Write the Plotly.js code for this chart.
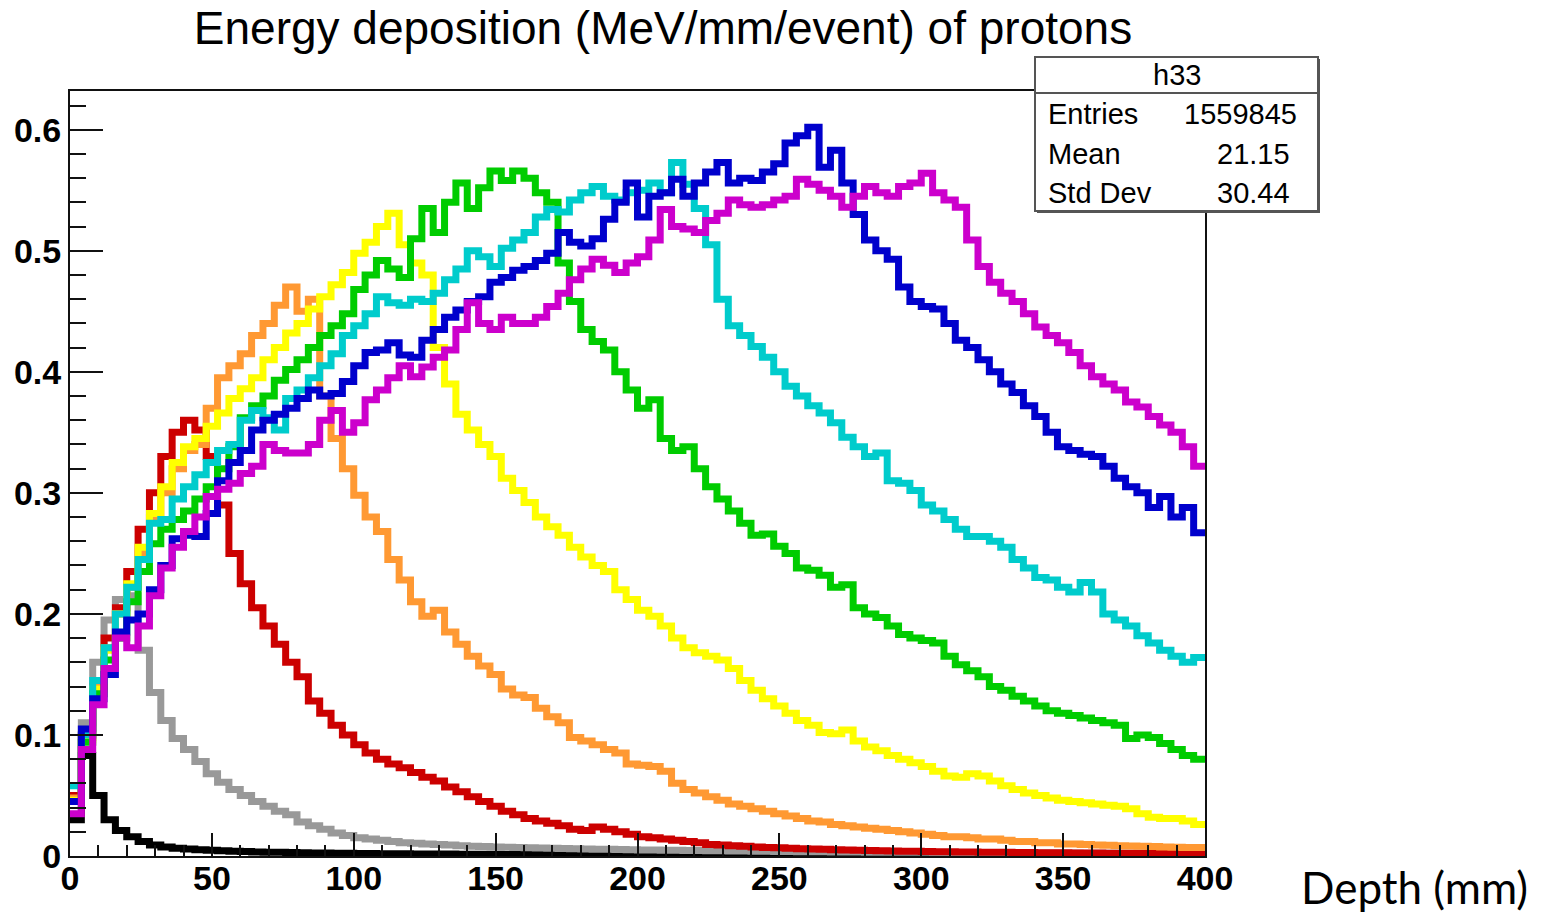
<!DOCTYPE html>
<html>
<head>
<meta charset="utf-8">
<script src="https://cdn.plot.ly/plotly-3.0.1.min.js"></script>
<style>
  html, body { margin: 0; padding: 0; background: #ffffff; }
  #chart { width: 1552px; height: 915px; }
</style>
</head>
<body>
<div id="chart"></div>
<script>
// Bin edges (mm), 4 mm bins
const depthEdges = [
  0,4,8,12,16,20,24,28,32,36,
  40,44,48,52,56,60,64,68,72,76,
  80,84,88,92,96,100,104,108,112,116,
  120,124,128,132,136,140,144,148,152,156,
  160,164,168,172,176,180,184,188,192,196,
  200,204,208,212,216,220,224,228,232,236,
  240,244,248,252,256,260,264,268,272,276,
  280,284,288,292,296,300,304,308,312,316,
  320,324,328,332,336,340,344,348,352,356,
  360,364,368,372,376,380,384,388,392,396,
  400
];

// Energy deposition (MeV/mm/event), one value per bin
const blackSeries = [
  0.03,0.083,0.05,0.03,0.021,0.016,0.012,0.009,0.0075,0.0065,
  0.0058,0.0052,0.0047,0.0043,0.004,0.0037,0.0034,0.0032,0.003,0.0028,
  0.0026,0.0025,0.0024,0.0023,0.0022,0.0021,0.002,0.0019,0.0018,0.0018,
  0.0017,0.0017,0.0016,0.0016,0.0015,0.0015,0.0014,0.0014,0.0013,0.0013,
  0.0013,0.0012,0.0012,0.0012,0.0011,0.0011,0.0011,0.001,0.001,0.001,
  0.001,0.001,0.001,0.00095,0.00095,0.0009,0.0009,0.0009,0.00085,0.00085,
  0.0008,0.0008,0.0008,0.0008,0.00075,0.00075,0.00075,0.0007,0.0007,0.0007,
  0.0007,0.00068,0.00068,0.00066,0.00066,0.00065,0.00064,0.00063,0.00062,0.00062,
  0.0006,0.0006,0.0006,0.00058,0.00058,0.00057,0.00056,0.00056,0.00055,0.00055,
  0.00054,0.00054,0.00053,0.00053,0.00052,0.00052,0.00051,0.00051,0.0005,0.0005
];
const graySeries = [
  0.05,0.11,0.16,0.195,0.212,0.215,0.17,0.135,0.112,0.097,
  0.088,0.078,0.068,0.061,0.055,0.05,0.045,0.041,0.037,0.034,
  0.028,0.025,0.022,0.019,0.017,0.015,0.014,0.013,0.012,0.011,
  0.0105,0.01,0.0095,0.009,0.0085,0.008,0.0078,0.0075,0.0072,0.007,
  0.0068,0.0066,0.0064,0.0062,0.006,0.0058,0.0056,0.0055,0.0054,0.0052,
  0.005,0.0049,0.0048,0.0047,0.0046,0.0045,0.0044,0.0043,0.0042,0.0041,
  0.004,0.0039,0.0038,0.0037,0.0036,0.0036,0.0035,0.0034,0.0034,0.0033,
  0.0032,0.0032,0.0031,0.0031,0.003,0.003,0.0029,0.0029,0.0028,0.0028,
  0.0027,0.0027,0.0026,0.0026,0.0025,0.0025,0.0025,0.0024,0.0024,0.0023,
  0.0023,0.0023,0.0022,0.0022,0.0022,0.0021,0.0021,0.0021,0.002,0.002
];
const redSeries = [
  0.05,0.10,0.14,0.18,0.205,0.235,0.27,0.30,0.33,0.35,
  0.36,0.352,0.33,0.29,0.25,0.225,0.205,0.19,0.175,0.16,
  0.148,0.128,0.118,0.108,0.1,0.092,0.085,0.08,0.076,0.073,
  0.069,0.065,0.062,0.057,0.053,0.049,0.045,0.041,0.037,0.034,
  0.031,0.029,0.027,0.025,0.022,0.021,0.024,0.022,0.02,0.018,
  0.016,0.015,0.014,0.013,0.012,0.011,0.0095,0.009,0.0085,0.008,
  0.0075,0.007,0.0068,0.0065,0.006,0.0058,0.0055,0.0052,0.005,0.0048,
  0.0046,0.0044,0.0042,0.004,0.0039,0.0038,0.0036,0.0035,0.0034,0.0033,
  0.0032,0.0031,0.003,0.0029,0.0028,0.0027,0.0027,0.0026,0.0025,0.0025,
  0.0024,0.0023,0.0023,0.0022,0.0022,0.0021,0.0021,0.002,0.002,0.002
];
const orangeSeries = [
  0.048,0.098,0.14,0.172,0.2,0.222,0.25,0.28,0.3,0.32,
  0.335,0.34,0.37,0.395,0.405,0.415,0.43,0.44,0.455,0.47,
  0.45,0.46,0.38,0.345,0.32,0.298,0.28,0.268,0.245,0.228,
  0.21,0.198,0.203,0.185,0.175,0.165,0.157,0.15,0.138,0.133,
  0.131,0.122,0.115,0.11,0.098,0.095,0.092,0.088,0.085,0.076,
  0.075,0.074,0.07,0.06,0.055,0.052,0.049,0.046,0.043,0.041,
  0.039,0.037,0.035,0.033,0.031,0.029,0.028,0.026,0.025,0.024,
  0.023,0.022,0.021,0.02,0.019,0.018,0.017,0.016,0.016,0.015,
  0.014,0.014,0.013,0.012,0.012,0.011,0.011,0.010,0.010,0.0095,
  0.009,0.0088,0.0085,0.0082,0.008,0.0078,0.0075,0.0072,0.007,0.007
];
const yellowSeries = [
  0.046,0.096,0.138,0.17,0.2,0.225,0.255,0.283,0.305,0.325,
  0.338,0.345,0.355,0.366,0.378,0.386,0.395,0.41,0.42,0.432,
  0.44,0.452,0.462,0.472,0.482,0.498,0.507,0.52,0.531,0.505,
  0.49,0.48,0.42,0.39,0.365,0.352,0.34,0.33,0.312,0.302,
  0.292,0.28,0.272,0.265,0.255,0.247,0.24,0.235,0.22,0.212,
  0.203,0.198,0.19,0.18,0.172,0.168,0.165,0.162,0.155,0.145,
  0.137,0.13,0.124,0.118,0.112,0.108,0.102,0.101,0.104,0.095,
  0.09,0.087,0.083,0.08,0.077,0.074,0.07,0.066,0.065,0.068,
  0.066,0.062,0.058,0.055,0.052,0.05,0.048,0.046,0.045,0.044,
  0.043,0.042,0.041,0.039,0.035,0.032,0.031,0.031,0.029,0.026
];
const greenSeries = [
  0.045,0.094,0.134,0.162,0.18,0.21,0.235,0.258,0.27,0.278,
  0.285,0.295,0.305,0.32,0.338,0.362,0.372,0.38,0.393,0.402,
  0.41,0.42,0.43,0.438,0.448,0.468,0.48,0.492,0.485,0.478,
  0.51,0.535,0.515,0.54,0.556,0.535,0.552,0.566,0.558,0.566,
  0.56,0.548,0.54,0.49,0.458,0.435,0.425,0.418,0.4,0.385,
  0.37,0.377,0.345,0.335,0.338,0.32,0.305,0.295,0.285,0.275,
  0.265,0.266,0.256,0.25,0.238,0.236,0.232,0.222,0.224,0.205,
  0.2,0.197,0.19,0.183,0.18,0.178,0.176,0.165,0.158,0.153,
  0.148,0.14,0.137,0.132,0.128,0.124,0.12,0.118,0.116,0.114,
  0.112,0.11,0.108,0.097,0.1,0.098,0.093,0.088,0.083,0.08
];
const cyanSeries = [
  0.058,0.1,0.145,0.172,0.2,0.222,0.245,0.275,0.278,0.295,
  0.305,0.315,0.325,0.335,0.34,0.36,0.368,0.362,0.352,0.378,
  0.385,0.395,0.405,0.415,0.43,0.438,0.448,0.462,0.457,0.455,
  0.46,0.458,0.465,0.476,0.485,0.5,0.495,0.487,0.502,0.509,
  0.515,0.528,0.534,0.532,0.542,0.548,0.553,0.545,0.542,0.548,
  0.55,0.556,0.548,0.573,0.555,0.535,0.505,0.46,0.438,0.43,
  0.421,0.412,0.40,0.388,0.38,0.372,0.366,0.358,0.346,0.338,
  0.33,0.333,0.31,0.308,0.302,0.29,0.285,0.278,0.27,0.264,
  0.264,0.26,0.255,0.245,0.238,0.23,0.228,0.222,0.218,0.226,
  0.218,0.2,0.195,0.19,0.182,0.176,0.17,0.165,0.16,0.164
];
const blueSeries = [
  0.045,0.105,0.13,0.15,0.185,0.195,0.2,0.22,0.24,0.262,
  0.265,0.264,0.283,0.31,0.325,0.335,0.352,0.36,0.365,0.37,
  0.378,0.385,0.38,0.382,0.392,0.405,0.416,0.418,0.424,0.414,
  0.412,0.426,0.435,0.445,0.451,0.458,0.462,0.474,0.478,0.484,
  0.487,0.492,0.498,0.515,0.507,0.504,0.51,0.526,0.54,0.556,
  0.528,0.545,0.548,0.559,0.545,0.556,0.565,0.573,0.556,0.56,
  0.558,0.565,0.572,0.589,0.595,0.602,0.569,0.583,0.556,0.53,
  0.509,0.5,0.493,0.47,0.458,0.454,0.452,0.44,0.426,0.42,
  0.41,0.4,0.39,0.383,0.372,0.363,0.35,0.338,0.335,0.332,
  0.33,0.322,0.312,0.305,0.3,0.288,0.297,0.28,0.288,0.267
];
const magentaSeries = [
  0.035,0.088,0.125,0.155,0.18,0.172,0.19,0.215,0.238,0.255,
  0.268,0.28,0.297,0.303,0.308,0.316,0.322,0.34,0.335,0.333,
  0.333,0.34,0.36,0.368,0.35,0.358,0.377,0.385,0.395,0.405,
  0.396,0.404,0.412,0.418,0.435,0.457,0.44,0.435,0.445,0.44,
  0.44,0.445,0.454,0.465,0.476,0.485,0.493,0.488,0.482,0.49,
  0.495,0.509,0.534,0.52,0.518,0.515,0.525,0.531,0.542,0.538,
  0.536,0.538,0.542,0.545,0.559,0.555,0.55,0.545,0.536,0.545,
  0.553,0.548,0.545,0.553,0.556,0.564,0.548,0.542,0.536,0.509,
  0.487,0.474,0.465,0.458,0.448,0.437,0.43,0.424,0.416,0.405,
  0.396,0.39,0.385,0.375,0.371,0.363,0.356,0.35,0.338,0.322
];

const seriesList = [blackSeries, graySeries, redSeries, orangeSeries, yellowSeries,
                    greenSeries, cyanSeries, blueSeries, magentaSeries];
const seriesColors = ['#000000', '#999999', '#cc0000', '#ff9933', '#ffff00',
                      '#00cc00', '#00cccc', '#0000cc', '#cc00cc'];

const statsLabels = ['Entries', 'Mean', 'Std Dev'];
const statsValues = ['1559845', '21.15', '30.44'];

const traces = seriesList.map((vals, i) => ({
  type: 'scatter',
  mode: 'lines',
  x: depthEdges,
  y: vals.concat([vals[vals.length - 1]]),
  line: { shape: 'hv', color: seriesColors[i], width: 7 },
  hoverinfo: 'skip',
  showlegend: false
}));

// plot area in px: left 70, right 1205, top 91, bottom 856
const PL = 70, PR = 1205, PT = 91, PB = 856;
const px2x = p => (p - PL) / (PR - PL);
const px2y = p => (PB - p) / (PB - PT);

const axisFont = { family: 'Liberation Sans, Arial, sans-serif', size: 34, color: '#000000', weight: 'bold' };
const statFont = { family: 'Liberation Sans, Arial, sans-serif', size: 29, color: '#000000' };

const annotations = [];
annotations.push({ xref: 'paper', yref: 'paper', x: px2x(1177), y: px2y(75), text: 'h33',
  showarrow: false, xanchor: 'center', yanchor: 'middle', font: statFont });
const rowY = [114, 154, 193];
statsLabels.forEach((t, i) => {
  annotations.push({ xref: 'paper', yref: 'paper', x: px2x(1046), y: px2y(rowY[i]), text: t,
    showarrow: false, xanchor: 'left', yanchor: 'middle', font: statFont });
  annotations.push({ xref: 'paper', yref: 'paper', x: px2x(i === 0 ? 1299 : 1292), y: px2y(rowY[i]), text: statsValues[i],
    showarrow: false, xanchor: 'right', yanchor: 'middle', font: statFont });
});
annotations.push({ xref: 'paper', yref: 'paper', x: px2x(1299), y: px2y(887), text: 'Depth (mm)',
  showarrow: false, xanchor: 'left', yanchor: 'middle',
  font: { family: 'Lato, Carlito, sans-serif', size: 44, color: '#000000' } });

const shapes = [
  // shadow
  { type: 'rect', xref: 'paper', yref: 'paper', layer: 'above',
    x0: px2x(1037), x1: px2x(1320), y0: px2y(213), y1: px2y(59),
    fillcolor: '#555555', line: { width: 0 } },
  // box
  { type: 'rect', xref: 'paper', yref: 'paper', layer: 'above',
    x0: px2x(1035), x1: px2x(1318), y0: px2y(211), y1: px2y(57),
    fillcolor: '#ffffff', line: { color: '#555555', width: 2 } },
  // header separator
  { type: 'line', xref: 'paper', yref: 'paper', layer: 'above',
    x0: px2x(1035), x1: px2x(1318), y0: px2y(93), y1: px2y(93),
    line: { color: '#555555', width: 2 } }
];

const layout = {
  width: 1552, height: 915,
  margin: { l: PL, r: 1552 - PR, t: PT, b: 915 - PB, pad: 0 },
  paper_bgcolor: '#ffffff', plot_bgcolor: '#ffffff',
  showlegend: false,
  title: {
    text: 'Energy deposition (MeV/mm/event) of protons',
    font: { family: 'Liberation Sans, Arial, sans-serif', size: 46, color: '#000000' },
    xref: 'container', yref: 'container',
    x: 663 / 1552, xanchor: 'center',
    y: 1 - 28 / 915, yanchor: 'middle'
  },
  xaxis: {
    range: [0, 400], tick0: 0, dtick: 50,
    ticks: 'inside', ticklen: 23, tickwidth: 2, tickcolor: '#111111',
    showline: true, linecolor: '#111111', linewidth: 2, mirror: true,
    showgrid: false, zeroline: false,
    tickfont: axisFont, ticklabelstandoff: -9,
    minor: { dtick: 10, ticks: 'inside', ticklen: 11, tickwidth: 2, tickcolor: '#111111', showgrid: false }
  },
  yaxis: {
    range: [0, 0.632], tick0: 0, dtick: 0.1,
    ticks: 'inside', ticklen: 33, tickwidth: 2, tickcolor: '#111111',
    showline: true, linecolor: '#111111', linewidth: 2, mirror: true,
    showgrid: false, zeroline: false,
    tickfont: axisFont,
    minor: { dtick: 0.02, ticks: 'inside', ticklen: 16, tickwidth: 2, tickcolor: '#111111', showgrid: false }
  },
  shapes: shapes,
  annotations: annotations
};

Plotly.newPlot('chart', traces, layout, { staticPlot: true, displayModeBar: false });
</script>
</body>
</html>
